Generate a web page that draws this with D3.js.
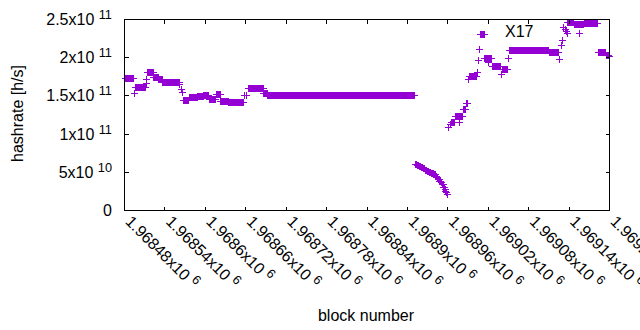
<!DOCTYPE html>
<html><head><meta charset="utf-8">
<script src="https://cdn.jsdelivr.net/npm/d3@7"></script>
<style>
html,body{margin:0;padding:0;background:#fff;}
svg{display:block;font-family:"Liberation Sans",Arial,sans-serif;}
</style></head>
<body><svg id="chart" width="640" height="330"></svg>
<script>
// ---- data (runs of consecutive blocks sharing one hashrate reading) ----
const runStart = [1968481,1968495,1968496,1968512,1968513,1968514,1968523,1968531,1968537,1968562,1968564,1968566,1968568,1968576,1968589,1968598,1968606,1968617,1968623,1968635,1968658,1968661,1968664,1968687,1968693,
  1968912,1968915,1968918,1968921,1968924,1968927,1968930,1968933,1968936,1968939,1968942,1968944,1968946,1968948,1968950,1968952,1968954,1968956,1968957,1968958,1968959,
  1968961,1968964,1968966,1968971,1968978,1968979,1968983,1968987,1968991,1968992,1969004,1969005,1969007,1969009,1969015,1969021,1969026,1969039,1969041,1969050,1969052,1969111,1969126,1969128,1969130,1969132,1969134,1969136,1969137,1969138,1969148,1969156,1969163,1969183,1969195,1969200];
const runEnd   = [1968494,1968495,1968511,1968512,1968513,1968523,1968530,1968536,1968561,1968562,1968564,1968566,1968575,1968588,1968597,1968605,1968615,1968622,1968634,1968656,1968658,1968661,1968686,1968692,1968910,
  1968914,1968917,1968920,1968923,1968926,1968929,1968932,1968935,1968938,1968941,1968943,1968945,1968947,1968949,1968951,1968953,1968955,1968956,1968957,1968958,1968959,
  1968961,1968964,1968970,1968977,1968978,1968982,1968986,1968989,1968991,1969002,1969004,1969005,1969007,1969014,1969025,1969021,1969038,1969039,1969048,1969050,1969110,1969125,1969126,1969128,1969130,1969132,1969134,1969136,1969137,1969147,1969162,1969156,1969182,1969194,1969199,1969200];
const runRate  = [1.73e11,1.53e11,1.61e11,1.66e11,1.714e11,1.81e11,1.74e11,1.718e11,1.674e11,1.652e11,1.583e11,1.539e11,1.44e11,1.473e11,1.496e11,1.51e11,1.452e11,1.518e11,1.421e11,1.413e11,1.51e11,1.51e11,1.596e11,1.531e11,1.505e11,
  6.05e10,5.9e10,5.75e10,5.6e10,5.45e10,5.25e10,5.1e10,4.98e10,4.85e10,4.7e10,4.5e10,4.3e10,4.1e10,3.85e10,3.6e10,3.35e10,3.05e10,2.8e10,2.55e10,2.3e10,2.05e10,
  1.08e11,1.125e11,1.156e11,1.234e11,1.15e11,1.23e11,1.32e11,1.40e11,1.72e11,1.755e11,1.81e11,1.966e11,2.105e11,2.30e11,1.99e11,1.94e11,1.887e11,1.78e11,1.84e11,1.99e11,2.093e11,2.07e11,1.975e11,2.166e11,2.227e11,2.40e11,2.366e11,2.344e11,2.32e11,2.466e11,2.43e11,2.315e11,2.445e11,2.07e11,2.03e11,2.01e11];

const xTicks = [1968480,1968540,1968600,1968660,1968720,1968780,1968840,1968900,1968960,1969020,1969080,1969140,1969200];
const xTickLabels = ["1.96848","1.96854","1.9686","1.96866","1.96872","1.96878","1.96884","1.9689","1.96896","1.96902","1.96908","1.96914","1.9692"];
const xTickExp = "6";
const yTicks = [0,5e10,1e11,1.5e11,2e11,2.5e11];
const yTickLabels = ["0","5x10","1x10","1.5x10","2x10","2.5x10"];
const yTickExp = ["","10","11","11","11","11"];
const xTitle = "block number";
const yTitle = "hashrate [h/s]";
const seriesTitle = "X17";

// ---- layout ----
const svg = d3.select("#chart");
const L = 124.5, R = 609.5, T = 19.5, B = 210.5;
const x = d3.scaleLinear().domain([1968480,1969200]).range([L,R]);
const y = d3.scaleLinear().domain([0,2.5e11]).range([B,T]);
const color = "#9400d3";

// points
const pts = [];
runStart.forEach((s,i)=>{ for(let b=s;b<=runEnd[i];b++) pts.push([b,runRate[i]]); });
const hs = 3.5;
svg.append("g").attr("shape-rendering","crispEdges")
  .selectAll("path").data(pts).join("path")
  .attr("d",d=>{const cx=Math.round(x(d[0])-0.5)+0.5, cy=Math.round(y(d[1])-0.5)+0.5;
     return `M${cx-hs},${cy}H${cx+hs}M${cx},${cy-hs}V${cy+hs}`;})
  .attr("stroke",color).attr("stroke-width",1).attr("fill","none");

// frame and ticks
const g = svg.append("g").attr("shape-rendering","crispEdges").attr("stroke","#000").attr("stroke-width",1);
g.append("rect").attr("x",L).attr("y",T).attr("width",R-L).attr("height",B-T).attr("fill","none");
const tl = 4;
xTicks.forEach(v=>{const xx=Math.round(x(v)-0.5)+0.5;
  g.append("line").attr("x1",xx).attr("x2",xx).attr("y1",B).attr("y2",B-tl);
  g.append("line").attr("x1",xx).attr("x2",xx).attr("y1",T).attr("y2",T+tl);});
yTicks.forEach(v=>{const yy=Math.round(y(v)-0.5)+0.5;
  g.append("line").attr("x1",L).attr("x2",L+tl).attr("y1",yy).attr("y2",yy);
  g.append("line").attr("x1",R).attr("x2",R-tl).attr("y1",yy).attr("y2",yy);});

// y tick labels
yTicks.forEach((v,i)=>{
  const t = svg.append("text").attr("x",112).attr("y",y(v)+5.5).attr("text-anchor","end")
    .attr("font-size",16).attr("fill","#000");
  t.append("tspan").text(yTickLabels[i]);
  if(yTickExp[i]){ t.append("tspan").attr("dx",4.4).attr("dy",-6).attr("font-size",12.8).text(yTickExp[i]); }
});
// x tick labels
xTicks.forEach((v,i)=>{
  const t = svg.append("text").attr("transform",`translate(${x(v)},${222.5}) rotate(45)`)
    .attr("font-size",16).attr("fill","#000");
  t.append("tspan").text(xTickLabels[i]+"x10");
  t.append("tspan").attr("dx",4.4).attr("dy",-6).attr("font-size",12.8).text(xTickExp);
});

svg.append("text").attr("x",366).attr("y",321).attr("text-anchor","middle").attr("font-size",16).text(xTitle);
svg.append("text").attr("transform","translate(22.5,113.5) rotate(-90)").attr("text-anchor","middle").attr("font-size",16).text(yTitle);
svg.append("text").attr("x",505).attr("y",37).attr("font-size",16).text(seriesTitle);
</script></body></html>
